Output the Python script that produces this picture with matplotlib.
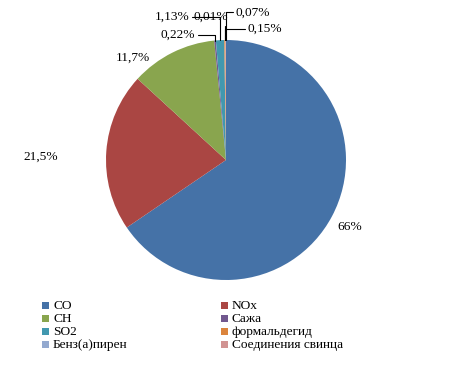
import numpy as np
import matplotlib
matplotlib.use("Agg")
import matplotlib.pyplot as plt
from matplotlib.patches import Rectangle

categories = ["CO", "NOx", "CH", "Сажа", "SO2", "формальдегид", "Бенз(а)пирен", "Соединения свинца"]
values = [66, 21.5, 11.7, 0.22, 1.13, 0.15, 0.01, 0.07]
value_labels = ["66%", "21,5%", "11,7%", "0,22%", "1,13%", "0,15%", "0,01%", "0,07%"]
colors = ["#4572A7", "#AA4643", "#89A54E", "#71588F", "#4198AF", "#DB843D", "#93A9CF", "#D19392"]

# label positions (pie units) and whether a leader line is drawn
label_pos = [(1.03, -0.56), (-1.54, 0.025), (-0.775, 0.85), (-0.40, 1.04),
             (-0.45, 1.19), (0.325, 1.09), (-0.13, 1.19), (0.225, 1.23)]
leader = [False, False, False, True, True, True, True, True]

W, H = 468, 369
fig = plt.figure(figsize=(W / 100, H / 100), dpi=100)
font = dict(family=["Liberation Serif", "DejaVu Serif"], size=9.6)

cx, cy, R = 226, 160, 120
ax = fig.add_axes([(cx - R) / W, (H - cy - R) / H, 2 * R / W, 2 * R / H])
wedges, _ = ax.pie(values, colors=colors, startangle=90, counterclock=False,
                   wedgeprops=dict(linewidth=0))
ax.set_xlim(-1, 1)
ax.set_ylim(-1, 1)
ax.axis("off")

for w, lab, (lx, ly), ld in zip(wedges, value_labels, label_pos, leader):
    if ld:
        ang = np.deg2rad((w.theta1 + w.theta2) / 2)
        ex, ey = np.cos(ang), np.sin(ang)
        ax.annotate(lab, xy=(ex, ey), xytext=(lx, ly), ha="center", va="center",
                    annotation_clip=False, **font,
                    arrowprops=dict(arrowstyle="-", color="black", lw=0.8,
                                    shrinkA=0, shrinkB=0,
                                    connectionstyle="angle,angleA=0,angleB=90,rad=0"))
    else:
        ax.text(lx, ly, lab, ha="center", va="center", clip_on=False, **font)

# legend drawn manually in two columns
for i, (name, c) in enumerate(zip(categories, colors)):
    col, row = i % 2, i // 2
    x0 = 42 + 179 * col
    y0 = 302 + 13 * row
    fig.patches.append(Rectangle((x0 / W, 1 - (y0 + 7) / H), 7 / W, 7 / H,
                                 transform=fig.transFigure, facecolor=c, edgecolor="none"))
    fig.text((x0 + 11) / W, 1 - (y0 + 4) / H, name, ha="left", va="center", **font)

fig.savefig("out.png", dpi=100)
